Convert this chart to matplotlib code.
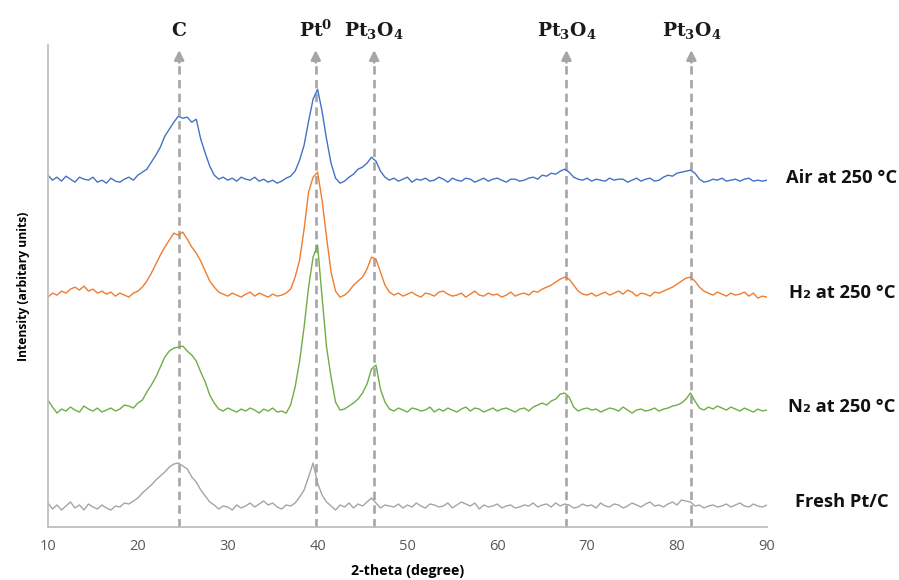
import numpy as np
import matplotlib
matplotlib.use("Agg")
import matplotlib.pyplot as plt

# 2-theta grid, 0.5 degree steps from 10 to 90
two_theta = np.arange(10, 90.01, 0.5)

# intensities (arbitrary units, already stacked)
air = [352, 347, 350, 346, 351, 348, 345, 350, 348, 347, 350, 345, 347, 344, 349, 346, 345, 348, 350, 347,
       352, 355, 358, 365, 372, 380, 391, 398, 405, 411, 409, 410, 405, 408, 388, 374, 361, 352, 348, 350,
       347, 349, 346, 350, 348, 347, 350, 346, 348, 345, 347, 344, 346, 349, 351, 356, 367, 382, 406, 428,
       438, 416, 388, 364, 349, 344, 346, 350, 353, 358, 360, 364, 370, 366, 356, 350, 347, 349, 346, 348,
       350, 345, 348, 347, 349, 346, 347, 350, 348, 345, 349, 347, 346, 349, 348, 345, 347, 349, 346, 348,
       349, 347, 345, 348, 348, 346, 347, 349, 350, 348, 352, 351, 354, 353, 356, 358, 355, 350, 348, 347,
       349, 346, 348, 347, 346, 349, 347, 348, 348, 345, 347, 349, 346, 348, 349, 346, 347, 350, 352, 351,
       354, 355, 356, 357, 354, 348, 345, 346, 348, 347, 349, 346, 347, 348, 346, 348, 349, 346, 347, 346,
       347]
h2 = [230, 234, 232, 236, 234, 238, 240, 237, 241, 236, 238, 234, 236, 233, 235, 231, 234, 232, 230, 234,
      236, 240, 246, 254, 263, 272, 280, 287, 294, 292, 295, 288, 280, 274, 266, 256, 246, 240, 235, 233,
      231, 234, 232, 230, 233, 235, 231, 234, 232, 230, 233, 231, 232, 234, 238, 250, 267, 298, 335, 350,
      355, 327, 290, 255, 236, 230, 232, 236, 242, 246, 250, 258, 270, 268, 255, 242, 235, 232, 234, 231,
      233, 235, 232, 230, 234, 233, 231, 235, 236, 233, 231, 232, 234, 230, 233, 236, 232, 231, 234, 232,
      233, 230, 232, 235, 231, 233, 234, 232, 236, 235, 238, 240, 242, 245, 248, 250, 248, 242, 236, 233,
      232, 234, 231, 233, 235, 232, 234, 236, 233, 237, 235, 231, 234, 233, 231, 235, 234, 236, 238, 240,
      243, 246, 249, 250, 246, 240, 236, 234, 232, 235, 233, 231, 234, 232, 233, 235, 231, 234, 229, 231,
      230]
n2 = [127, 120, 114, 118, 116, 120, 117, 115, 121, 118, 116, 119, 115, 117, 119, 116, 118, 122, 121, 119,
      124, 127, 135, 142, 150, 160, 170, 176, 179, 180, 181, 176, 172, 166, 155, 145, 132, 124, 118, 116,
      119, 117, 115, 118, 116, 119, 117, 114, 118, 116, 119, 115, 116, 114, 122, 140, 166, 200, 240, 270,
      282, 230, 180, 150, 125, 117, 118, 121, 124, 128, 134, 143, 158, 162, 138, 125, 118, 116, 119, 117,
      115, 119, 118, 116, 117, 120, 115, 118, 116, 119, 117, 115, 118, 120, 116, 119, 118, 115, 117, 119,
      116, 118, 119, 117, 115, 118, 119, 116, 120, 122, 124, 122, 126, 128, 133, 134, 130, 120, 116, 118,
      119, 117, 118, 115, 117, 119, 118, 116, 120, 117, 114, 117, 118, 116, 117, 119, 116, 118, 119, 121,
      122, 124, 128, 134, 126, 119, 117, 120, 118, 121, 119, 117, 120, 118, 116, 119, 117, 115, 118, 116,
      117]
fresh = [24, 18, 22, 17, 21, 25, 19, 22, 17, 23, 20, 18, 22, 19, 17, 21, 20, 24, 23, 26,
         29, 34, 38, 42, 47, 51, 55, 60, 63, 64, 61, 58, 50, 45, 37, 31, 25, 22, 18, 21,
         20, 17, 22, 19, 21, 24, 20, 23, 26, 22, 24, 20, 18, 22, 21, 24, 30, 37, 50, 64,
         44, 32, 25, 21, 17, 22, 20, 24, 19, 23, 21, 25, 29, 24, 19, 22, 21, 20, 23, 19,
         22, 20, 24, 21, 19, 23, 22, 20, 21, 24, 19, 22, 25, 23, 21, 24, 18, 22, 20, 21,
         23, 19, 21, 22, 19, 20, 22, 21, 24, 20, 22, 23, 20, 24, 21, 23, 22, 19, 20, 23,
         21, 22, 19, 24, 21, 20, 23, 22, 19, 21, 24, 22, 20, 23, 25, 21, 22, 20, 23, 25,
         22, 27, 26, 25, 21, 22, 19, 21, 22, 20, 21, 23, 20, 22, 24, 21, 20, 23, 21, 20,
         22]

series_names = ["Air at 250 °C", "H₂ at 250 °C", "N₂ at 250 °C", "Fresh Pt/C"]
series_colors = ["#4472C4", "#ED7D31", "#70AD47", "#A5A5A5"]
label_heights = [349, 234, 120, 25]

peak_pos = [24.6, 39.8, 46.3, 67.7, 81.6]
peak_names = [r"$\mathbf{C}$", r"$\mathbf{Pt^0}$", r"$\mathbf{Pt_3O_4}$",
              r"$\mathbf{Pt_3O_4}$", r"$\mathbf{Pt_3O_4}$"]

plt.rcParams["mathtext.fontset"] = "dejavuserif"
sans = ["Open Sans", "DejaVu Sans"]

fig = plt.figure(figsize=(8.99, 5.8), dpi=100)
ax = fig.add_axes([0.0534, 0.0914, 0.7996, 0.8306])

# dashed reference lines with arrow heads
for xp, name in zip(peak_pos, peak_names):
    ax.plot([xp, xp], [0, 466], color="#A6A6A6", lw=1.9, ls=(0, (3.2, 2.0)), zorder=1, clip_on=False)
    ax.annotate("", xy=(xp, 480), xytext=(xp, 462),
                arrowprops=dict(arrowstyle="-|>", color="#A6A6A6", lw=1.9, mutation_scale=14),
                annotation_clip=False)
    ax.text(xp, 497, name, ha="center", va="center", fontsize=13.5, color="#1a1a1a", clip_on=False)

for vals, name, col, lh in zip([air, h2, n2, fresh], series_names, series_colors, label_heights):
    ax.plot(two_theta, vals, color=col, lw=1.0, zorder=2)
    ax.text(98.35, lh, name, ha="center", va="center", fontsize=13.2, fontweight="bold",
            family=sans, color="#111111", clip_on=False)

ax.set_xlim(10, 90)
ax.set_ylim(0, 482)
ax.set_xticks(range(10, 91, 10))
ax.set_yticks([])
ax.tick_params(axis="x", length=0, pad=9, labelsize=10.5, labelcolor="#595959")
for lab in ax.get_xticklabels():
    lab.set_family(sans)
for s in ["top", "right"]:
    ax.spines[s].set_visible(False)
for s in ["left", "bottom"]:
    ax.spines[s].set_color("#BFBFBF")
    ax.spines[s].set_linewidth(1.3)

ax.set_xlabel("2-theta (degree)", fontsize=10.2, fontweight="bold", family=sans, labelpad=7)
ax.set_ylabel("Intensity (arbitary units)", fontsize=8.7, fontweight="bold", family=sans, labelpad=13)

fig.savefig("out.png", dpi=100)
